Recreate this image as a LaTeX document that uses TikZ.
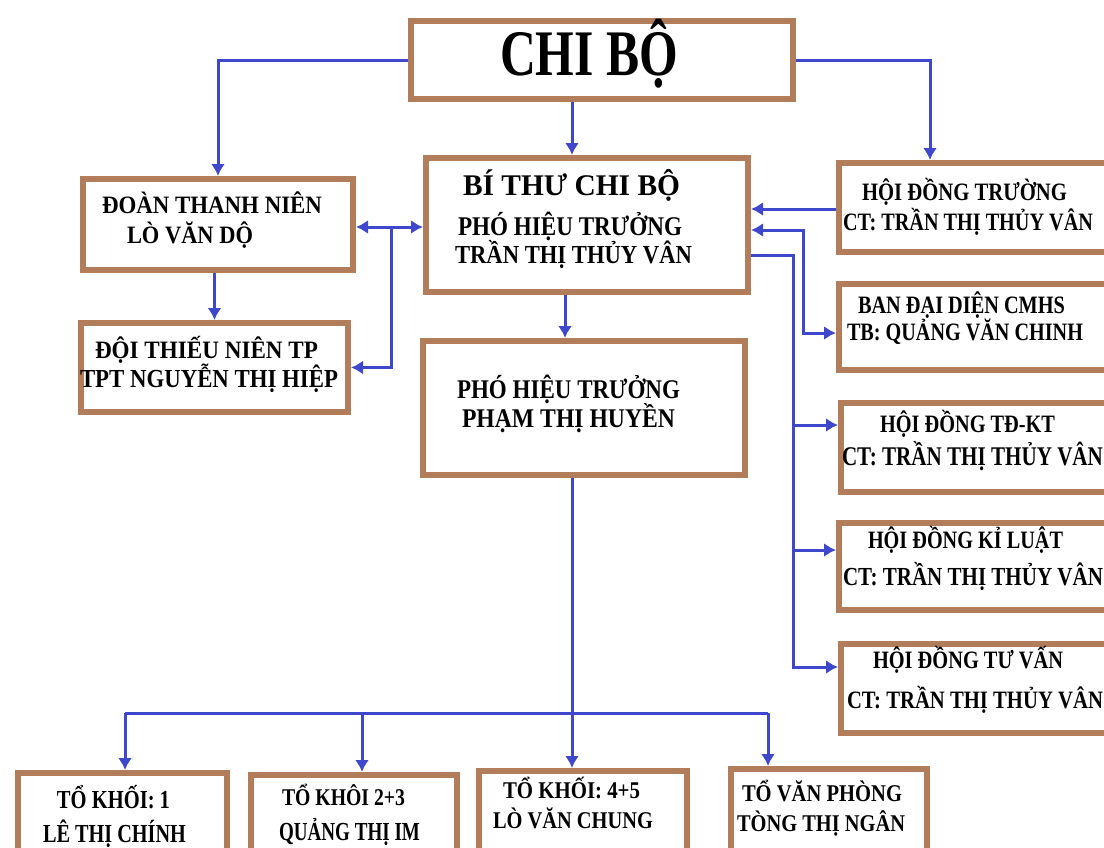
\documentclass[tikz,border=0pt]{standalone}
\usepackage{fontspec}
\setmainfont{Liberation Serif}
\usetikzlibrary{arrows.meta}
\definecolor{bx}{RGB}{178,125,90}
\definecolor{ln}{RGB}{63,72,204}
\newlength\twd
\newcommand\fw[2]{\settowidth{\twd}{#2}\pgfmathsetmacro\fwfac{#1/\twd}\scalebox{\fwfac}[1]{#2}}
\newcommand\fsz[1]{\fontsize{#1}{#1}\selectfont\bfseries}
\begin{document}
\begin{tikzpicture}[x=1pt,y=-1pt,
  box/.style={draw=bx, line width=6pt, fill=white, inner sep=0pt, anchor=north west},
  txt/.style={anchor=base, inner sep=0pt, text=black},
  con/.style={draw=ln, line width=3pt},
  arr/.style={con, -{Latex[length=12pt,width=14pt]}},
  arr2/.style={con, {Latex[length=12pt,width=14pt]}-{Latex[length=12pt,width=14pt]}}]
\useasboundingbox (0,0) rectangle (1104,847);
\clip (0,0) rectangle (1104,847);
% boxes
\node[box, minimum width=382pt, minimum height=78pt] (cb) at (408,18) {};
\node[box, minimum width=270pt, minimum height=91pt] (dtn) at (80,176) {};
\node[box, minimum width=267pt, minimum height=89pt] (dtnp) at (78,320) {};
\node[box, minimum width=322pt, minimum height=134pt] (bt) at (423,155) {};
\node[box, minimum width=322pt, minimum height=134pt] (ph) at (420,338) {};
\node[box, minimum width=290pt, minimum height=89pt] (hdt) at (836,160) {};
\node[box, minimum width=290pt, minimum height=86pt] (bdd) at (836,281) {};
\node[box, minimum width=290pt, minimum height=89pt] (tdkt) at (838,400) {};
\node[box, minimum width=290pt, minimum height=87pt] (kl) at (836,520) {};
\node[box, minimum width=290pt, minimum height=89pt] (tv) at (838,641) {};
\node[box, minimum width=209pt, minimum height=100pt] (k1) at (15,770) {};
\node[box, minimum width=206pt, minimum height=100pt] (k23) at (248,772) {};
\node[box, minimum width=208pt, minimum height=100pt] (k45) at (476,768) {};
\node[box, minimum width=196pt, minimum height=100pt] (kvp) at (728,766) {};
% texts
\node[txt, font=\fsz{65}] (t1) at (589,75) {\fw{178}{CHI BỘ}};
\node[txt, font=\fsz{30}] (t2) at (571.5,195) {\fw{217}{BÍ THƯ CHI BỘ}};
\node[txt, font=\fsz{27}] (t3) at (570,235) {\fw{224}{PHÓ HIỆU TRƯỞNG}};
\node[txt, font=\fsz{26}] (t4) at (573.5,263) {\fw{237}{TRẦN THỊ THỦY VÂN}};
\node[txt, font=\fsz{27}] (t5) at (568.5,398) {\fw{223}{PHÓ HIỆU TRƯỞNG}};
\node[txt, font=\fsz{27}] (t6) at (568.5,427) {\fw{213}{PHẠM THỊ HUYỀN}};
\node[txt, font=\fsz{25}] (t7) at (212,213) {\fw{220}{ĐOÀN THANH NIÊN}};
\node[txt, font=\fsz{25}] (t8) at (190,243) {\fw{126}{LÒ VĂN DỘ}};
\node[txt, font=\fsz{25}] (t9) at (206.5,358) {\fw{223}{ĐỘI THIẾU NIÊN TP}};
\node[txt, font=\fsz{26}] (t10) at (209,387) {\fw{258}{TPT NGUYỄN THỊ HIỆP}};
\node[txt, font=\fsz{25}] (t11) at (964.5,200) {\fw{205}{HỘI ĐỒNG TRƯỜNG}};
\node[txt, font=\fsz{25}] (t12) at (968,230) {\fw{250}{CT: TRẦN THỊ THỦY VÂN}};
\node[txt, font=\fsz{25}] (t13) at (961.5,313) {\fw{207}{BAN ĐẠI DIỆN CMHS}};
\node[txt, font=\fsz{25}] (t14) at (965,340) {\fw{236}{TB: QUẢNG VĂN CHINH}};
\node[txt, font=\fsz{25}] (t15) at (967.5,432) {\fw{175}{HỘI ĐỒNG TĐ-KT}};
\node[txt, font=\fsz{27}] (t16) at (972.5,465) {\fw{261}{CT: TRẦN THỊ THỦY VÂN}};
\node[txt, font=\fsz{25}] (t17) at (965.5,548) {\fw{195}{HỘI ĐỒNG KỈ LUẬT}};
\node[txt, font=\fsz{26}] (t18) at (973,585) {\fw{260}{CT: TRẦN THỊ THỦY VÂN}};
\node[txt, font=\fsz{25}] (t19) at (968,668) {\fw{190}{HỘI ĐỒNG TƯ VẤN}};
\node[txt, font=\fsz{25}] (t20) at (975,708) {\fw{256}{CT: TRẦN THỊ THỦY VÂN}};
\node[txt, font=\fsz{26}] (t21) at (113.5,808.5) {\fw{113}{TỔ KHỐI: 1}};
\node[txt, font=\fsz{26}] (t22) at (114.5,842.5) {\fw{143}{LÊ THỊ CHÍNH}};
\node[txt, font=\fsz{24}] (t23) at (343.5,805) {\fw{123}{TỔ KHÔI 2+3}};
\node[txt, font=\fsz{26}] (t24) at (349.5,840) {\fw{141}{QUẢNG THỊ IM}};
\node[txt, font=\fsz{24}] (t25) at (571.5,798) {\fw{137}{TỔ KHỐI: 4+5}};
\node[txt, font=\fsz{24}] (t26) at (573,828) {\fw{160}{LÒ VĂN CHUNG}};
\node[txt, font=\fsz{24}] (t27) at (822,801.5) {\fw{160}{TỔ VĂN PHÒNG}};
\node[txt, font=\fsz{24}] (t28) at (821,831.5) {\fw{168}{TÒNG THỊ NGÂN}};
% connectors
\coordinate (h1) at (930,0);
\coordinate (v1) at (572,0);
\coordinate (v2) at (565,0);
\draw[arr] (cb.west) -| (dtn.north);
\draw[arr] (cb.east) -| (hdt.north -| h1);
\draw[arr] (cb.south -| v1) -- (bt.north -| v1);
\draw[arr] (bt.south -| v2) -- (ph.north -| v2);
\draw[arr] (dtn.south -| dtnp.north) -- (dtnp.north);
\coordinate (l1) at (391,227);
\draw[arr2] (dtn.east |- l1) -- (bt.west |- l1);
\draw[arr] (l1) |- (dtnp.east);
\coordinate (r1) at (0,209);
\draw[arr] (hdt.west |- r1) -- (bt.east |- r1);
\coordinate (r2) at (803,230);
\coordinate (r3) at (803,333);
\draw[arr2] (bt.east |- r2) -- (r2) -- (r3) -- (bdd.west |- r3);
\coordinate (r4) at (793,255);
\coordinate (r5) at (793,667);
\draw[arr] (bt.east |- r4) -- (r4) -- (r5) -- (tv.west |- r5);
\coordinate (r6) at (793,425);
\draw[arr] (r6) -- (tdkt.west |- r6);
\coordinate (r7) at (793,550);
\draw[arr] (r7) -- (kl.west |- r7);
\coordinate (b0) at (572,713);
\coordinate (bl) at (125,713);
\coordinate (b2) at (362,713);
\coordinate (br) at (768,713);
\draw[arr] (ph.south -| b0) -- (k45.north -| b0);
\draw[con] (bl) -- (br);
\draw[arr] (bl) -- (k1.north -| bl);
\draw[arr] (b2) -- (k23.north -| b2);
\draw[arr] (br) -- (kvp.north -| br);
\end{tikzpicture}
\end{document}
